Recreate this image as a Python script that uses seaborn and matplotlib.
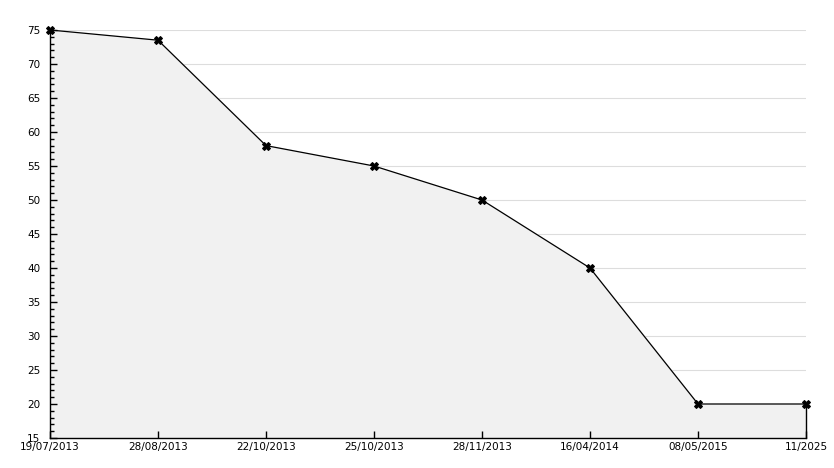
import pandas as pd
import matplotlib.pyplot as plt
from matplotlib.ticker import MultipleLocator
import seaborn as sns

# Data
dates = ["19/07/2013", "28/08/2013", "22/10/2013", "25/10/2013",
         "28/11/2013", "16/04/2014", "08/05/2015", "11/2025"]
values = [75, 73.5, 58, 55, 50, 40, 20, 20]

df = pd.DataFrame({"pos": range(len(dates)), "value": values})

sns.set_style("white")
plt.rcParams['font.family'] = ['DejaVu Sans']

fig = plt.figure(figsize=(8.34, 4.68), dpi=100)
ax = fig.add_axes([50 / 834, 1 - 438 / 468, 756 / 834, 408 / 468])

ax.set_xlim(0, len(dates) - 1)
ax.set_ylim(15, 75)
ax.yaxis.set_major_locator(MultipleLocator(5))
ax.yaxis.set_minor_locator(MultipleLocator(1))

# light grid lines, kept below the grey area
for y in ax.get_yticks():
    if 15 < y <= 75:
        ax.axhline(y, color="#dddddd", linewidth=0.8, zorder=0.1)

# Grey area under the line
ax.fill_between(df["pos"], df["value"], 15, color="#f1f1f1", zorder=0.5)
ax.plot([df["pos"].iloc[-1]] * 2, [15, values[-1]], color="black", lw=1,
        zorder=2, clip_on=False)

sns.lineplot(data=df, x="pos", y="value", color="black", linewidth=0.9,
             marker="X", markersize=6, markeredgecolor="black", ax=ax,
             zorder=3, clip_on=False)

ax.set_xlim(0, len(dates) - 1)
ax.set_ylim(15, 75)
ax.set_xticks(range(len(dates)))
ax.set_xticklabels(dates)

for side in ["top", "right"]:
    ax.spines[side].set_visible(False)
for side in ["left", "bottom"]:
    ax.spines[side].set_color("black")
    ax.spines[side].set_linewidth(1)

ax.tick_params(axis="both", which="major", direction="in", length=5, width=1,
               labelsize=7.5, colors="black", left=True, bottom=True)
ax.tick_params(axis="y", which="minor", direction="in", length=3, width=1,
               left=True, color="black")
ax.tick_params(axis="y", pad=7)
ax.tick_params(axis="x", pad=3)

ax.set_xlabel("")
ax.set_ylabel("")

plt.savefig("out.png", dpi=100)
